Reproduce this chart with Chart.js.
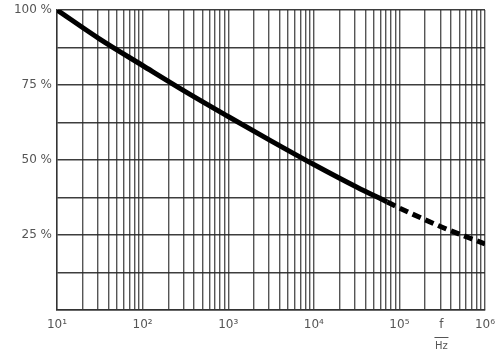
<!DOCTYPE html>
<html>
<head>
<meta charset="utf-8">
<script src="https://cdn.jsdelivr.net/npm/chart.js@4/dist/chart.umd.min.js"></script>
<style>
  body { margin: 0; background: #fff; }
  #wrap { width: 497px; height: 354px; }
</style>
</head>
<body>
<div id="wrap"><canvas id="chart" width="497" height="354"></canvas></div>
<script>
// frequency in Hz, relative value in %
const freqs = [10, 31.6, 100, 316, 1000, 3160, 10000, 31600, 72000, 100000, 316000, 1000000];
const values = [100, 90.3, 81.5, 72.8, 64.5, 56.4, 48.5, 41, 36, 34, 27.6, 22];
const dashFrom = 72000; // curve is dashed beyond this frequency
const xTickLabels = { 10: "10¹", 100: "10²", 1000: "10³", 10000: "10⁴", 100000: "10⁵", 1000000: "10⁶" };
const yTickLabels = { 25: "25 %", 50: "50 %", 75: "75 %", 100: "100 %" };

const labelFont = { family: "DejaVu Sans", size: 12 };

// draws the f/Hz unit label under the x axis
const unitLabel = {
  id: "unitLabel",
  afterDraw(chart) {
    const ctx = chart.ctx;
    const x = chart.scales.x.getPixelForValue(310000);
    ctx.save();
    ctx.fillStyle = "#555";
    ctx.strokeStyle = "#555";
    ctx.font = "12px 'DejaVu Sans'";
    ctx.textAlign = "center";
    ctx.textBaseline = "middle";
    ctx.fillText("f", x, 325);
    ctx.lineWidth = 1;
    ctx.beginPath();
    ctx.moveTo(x - 7, 337.5);
    ctx.lineTo(x + 7, 337.5);
    ctx.stroke();
    ctx.font = "10px 'DejaVu Sans'";
    ctx.fillText("Hz", x, 346);
    ctx.restore();
  }
};

const config = {
  type: "line",
  data: {
    datasets: [
      {
        data: freqs.map((f, i) => ({ x: f, y: values[i] })),
        borderColor: "#000",
        borderWidth: 5,
        pointRadius: 0,
        cubicInterpolationMode: "monotone",
        fill: false,
        segment: {
          borderDash: (c) => (c.p0.parsed.x >= dashFrom ? [9, 5] : undefined)
        }
      }
    ]
  },
  options: {
    responsive: false,
    animation: false,
    layout: { padding: { top: 10, right: 12, left: 0, bottom: 0 } },
    plugins: { legend: { display: false }, tooltip: { enabled: false } },
    scales: {
      x: {
        type: "logarithmic",
        min: 10,
        max: 1000000,
        afterBuildTicks: (scale) => {
          const ticks = [];
          for (let d = 10; d < 1000000; d *= 10) {
            for (let m = 1; m < 10; m++) ticks.push({ value: d * m });
          }
          ticks.push({ value: 1000000 });
          scale.ticks = ticks;
        },
        afterFit: (scale) => {
          scale.height = 44;
          scale.paddingLeft = 0;
          scale.paddingRight = 0;
        },
        ticks: {
          autoSkip: false,
          maxRotation: 0,
          padding: 8,
          color: "#555",
          font: labelFont,
          callback: (v) => xTickLabels[v] || ""
        },
        grid: {
          drawTicks: false,
          color: "rgba(55,55,55,0.85)",
          lineWidth: 1.4
        },
        border: { color: "#333", width: 1.4 }
      },
      y: {
        min: 0,
        max: 100,
        afterFit: (scale) => {
          scale.width = 57;
          scale.paddingTop = 0;
          scale.paddingBottom = 0;
        },
        ticks: {
          stepSize: 12.5,
          padding: 5,
          color: "#555",
          font: labelFont,
          callback: (v) => yTickLabels[v] || ""
        },
        grid: {
          drawTicks: false,
          color: "rgba(40,40,40,0.9)",
          lineWidth: 1.4
        },
        border: { color: "#333", width: 1.4 }
      }
    }
  },
  plugins: [unitLabel]
};

new Chart(document.getElementById("chart"), config);
</script>
</body>
</html>
